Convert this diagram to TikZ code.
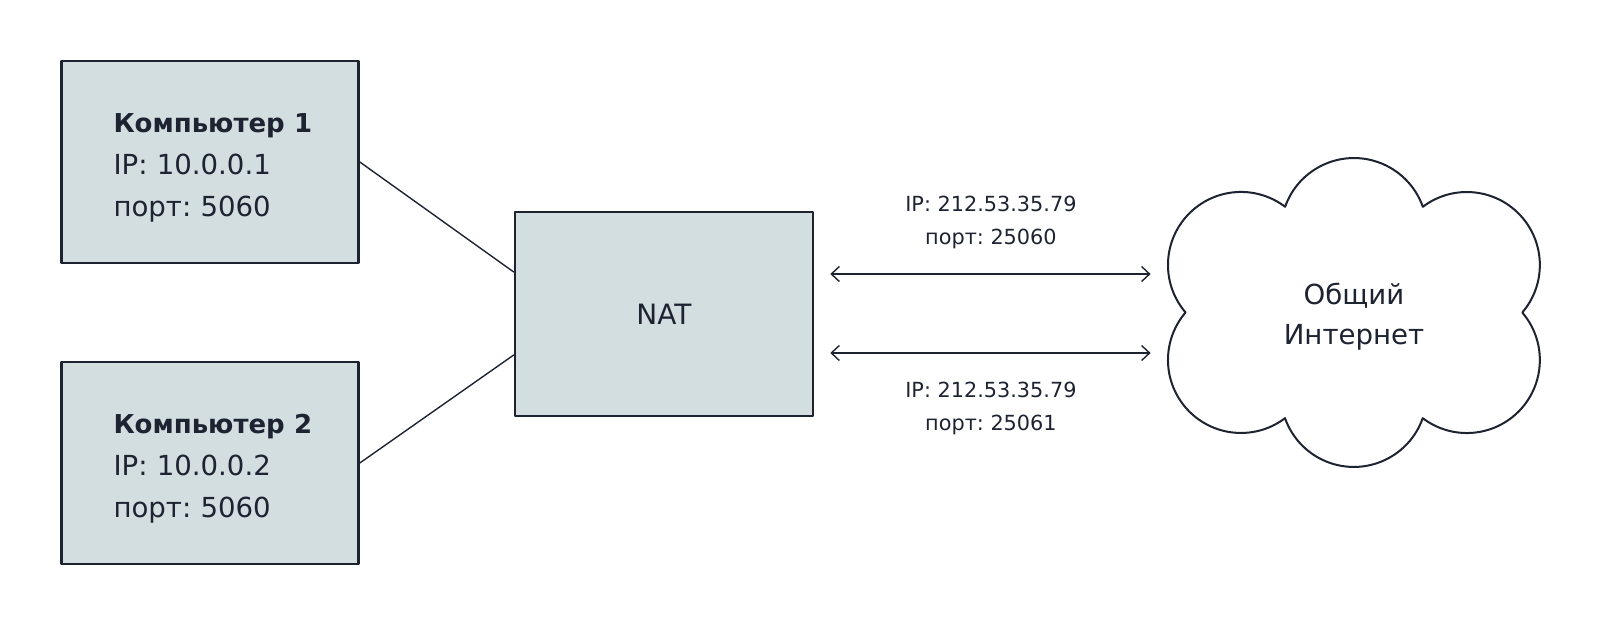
\documentclass[tikz,border=0pt]{standalone}
\usepackage{fontspec}
\setmainfont{DejaVu Sans}
\usetikzlibrary{arrows.meta,calc}
\definecolor{boxfill}{HTML}{D3DEE0}
\definecolor{ink}{HTML}{1E2332}
\frenchspacing
\hfuzz=20pt
\newcommand{\pchead}[1]{\rule{0pt}{15pt}\mbox{\bfseries\fontsize{13}{21}\selectfont #1}}
\tikzset{
	pcbox/.style={draw=ink, fill=boxfill, line width=1.3pt, text width=96.5pt, inner xsep=26pt, minimum height=101pt, align=left, text=ink, font=\fontsize{13.8}{21}\selectfont},
	natbox/.style={draw=ink, fill=boxfill, line width=1.3pt, minimum width=149pt, minimum height=102pt, text=ink, font=\fontsize{14}{20}\selectfont},
	cloudtext/.style={minimum width=186pt, minimum height=150pt, align=center, text=ink, font=\fontsize{13.8}{20}\selectfont},
	wire/.style={draw=ink, line width=0.7pt},
	link/.style={wire, {Straight Barb[length=4pt,width=7.5pt]}-{Straight Barb[length=4pt,width=7.5pt]}, shorten <=8pt, shorten >=8.5pt},
	addr/.style={inner sep=0pt, align=center, text=ink, font=\fontsize{10.4}{16.5}\selectfont}
}
\begin{document}
\begin{tikzpicture}[x=0.5pt, y=-0.5pt, line join=round, line cap=round]
	\useasboundingbox (0,0) rectangle (1600,626);
	\node[pcbox] (pc1) at (210,162) {\pchead{Компьютер 1}\\IP: 10.0.0.1\\порт: 5060};
	\node[pcbox] (pc2) at (210,463) {\pchead{Компьютер 2}\\IP: 10.0.0.2\\порт: 5060};
	\node[natbox] (nat) at (664,314) {NAT};
	\node[cloudtext] (inet) at (1354,317) {Общий\\Интернет};
	% cloud: six arcs of equal radius
	\draw[wire, line width=1pt] ($(inet.center)+(-68.9,-110.2)$)
		arc[start angle=199.4, end angle=340.6, radius=73]
		arc[start angle=232.9, end angle=400.6, radius=73]
		arc[start angle=-40.6, end angle=127.2, radius=73]
		arc[start angle=19.4, end angle=160.6, radius=73]
		arc[start angle=52.9, end angle=220.6, radius=73]
		arc[start angle=139.4, end angle=307.2, radius=73] -- cycle;
	\draw[wire] (pc1.east) -- ($(nat.west)+(0,-42)$);
	\draw[wire] (pc2.east) -- ($(nat.west)+(0,41)$);
	\draw[link] ($(nat.east)+(0,-40)$) -- node[addr, above=12pt] (addr1) {IP: 212.53.35.79\\порт: 25060} ($(inet.west)+(0,-43)$);
	\draw[link] ($(nat.east)+(0,39)$) -- node[addr, below=14pt] (addr2) {IP: 212.53.35.79\\порт: 25061} ($(inet.west)+(0,36)$);
\end{tikzpicture}
\end{document}
